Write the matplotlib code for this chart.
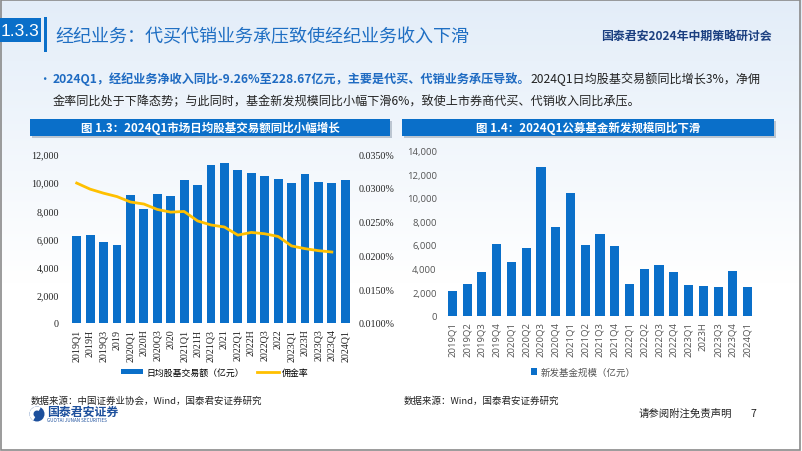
import numpy as np
import matplotlib.pyplot as plt
from matplotlib.patches import Rectangle, Patch, Circle, Wedge
from matplotlib.lines import Line2D
from matplotlib.ticker import FuncFormatter

plt.rcParams['font.family'] = ['Noto Sans CJK SC', 'DejaVu Sans']

# ---- data ----
left_cats = ["2019Q1", "2019H", "2019Q3", "2019", "2020Q1", "2020H", "2020Q3", "2020",
             "2021Q1", "2021H", "2021Q3", "2021", "2022Q1", "2022H", "2022Q3", "2022",
             "2023Q1", "2023H", "2023Q3", "2023Q4", "2024Q1"]
turnover = [6180, 6230, 5780, 5570, 9120, 8070, 9160, 9020,
            10180, 9780, 11200, 11340, 10890, 10630, 10420, 10200,
            9920, 10560, 10040, 9920, 10180]
commission = [0.0307, 0.0298, 0.0292, 0.0287, 0.0279, 0.0276, 0.0268, 0.0264,
              0.0265, 0.0251, 0.0245, 0.0242, 0.0230, 0.0234, 0.0232, 0.0228,
              0.0214, 0.0210, 0.0207, 0.0205]  # percent, 2024Q1 missing

right_cats = ["2019Q1", "2019Q2", "2019Q3", "2019Q4", "2020Q1", "2020Q2", "2020Q3", "2020Q4",
              "2021Q1", "2021Q2", "2021Q3", "2021Q4", "2022Q1", "2022Q2", "2022Q3", "2022Q4",
              "2023Q1", "2023H", "2023Q3", "2023Q4", "2024Q1"]
new_funds = [2100, 2660, 3680, 6050, 4530, 5770, 12590, 7550,
             10410, 6020, 6900, 5940, 2660, 3960, 4330, 3730,
             2580, 2545, 2460, 3790, 2430]

BLUE = "#0a6fc9"
W, H = 802, 452

fig = plt.figure(figsize=(8.02, 4.52), dpi=100)

def fx(px):
    return px / W

def fy(py):
    return 1 - py / H

# background gradient
bg = fig.add_axes([0, 0, 1, 1], zorder=-10)
grad = np.linspace(0, 1, 200).reshape(-1, 1)
top = np.array([0.89, 0.93, 0.975])
bot = np.array([1.0, 1.0, 1.0])
mix = np.clip(grad * 1.6, 0, 1)
img = top + (bot - top) * mix[..., None]
img = np.repeat(img, 2, axis=1)
bg.imshow(img, aspect="auto", extent=[0, 1, 0, 1])
bg.set_axis_off()

# frame
fig.patches.append(Rectangle((0.001, 0.002), 0.997, 0.995, transform=fig.transFigure,
                             fill=False, ec="#8a8a8a", lw=1.2))

# header
fig.patches.append(Rectangle((fx(0), fy(43)), fx(41), (43 - 19) / H, transform=fig.transFigure,
                             fc=BLUE, ec="none"))
fig.text(fx(20.5), fy(31), "1.3.3", color="white", fontsize=12.5, ha="center", va="center",
         family="Liberation Sans")
fig.patches.append(Rectangle((fx(44), fy(53)), fx(3), (53 - 18) / H, transform=fig.transFigure,
                             fc=BLUE, ec="none"))
fig.text(fx(55), fy(37), "经纪业务：代买代销业务承压致使经纪业务收入下滑", color="#1f6fc3",
         fontsize=13, ha="left", va="center")
fig.text(fx(772), fy(36), "国泰君安2024年中期策略研讨会", color="#1b3f80", fontsize=8.6,
         ha="right", va="center", weight="bold")

# bullet text
fig.text(fx(38), fy(79), "•", color="#1f6fc3", fontsize=9, ha="left", va="center")
t1 = fig.text(fx(53), fy(79), "2024Q1，经纪业务净收入同比-9.26%至228.67亿元，主要是代买、代销业务承压导致。",
              color="#1f6bc2", fontsize=8.7, weight="bold", ha="left", va="center")
fig.canvas.draw()
bb = t1.get_window_extent()
fig.text(bb.x1 / fig.dpi / fig.get_figwidth(), fy(79), "2024Q1日均股基交易额同比增长3%，净佣",
         color="#222222", fontsize=8.7, ha="left", va="center")
fig.text(fx(53), fy(101.5), "金率同比处于下降态势；与此同时，基金新发规模同比小幅下滑6%，致使上市券商代买、代销收入同比承压。",
         color="#222222", fontsize=8.7, ha="left", va="center")

# chart header bars
for x0, x1, title in [(30, 390, "图 1.3：2024Q1市场日均股基交易额同比小幅增长"),
                      (402, 774, "图 1.4：2024Q1公募基金新发规模同比下滑")]:
    fig.patches.append(Rectangle((fx(x0 + 2), fy(139)), fx(x1 - x0), 17 / H, transform=fig.transFigure,
                                 fc="#9aa7b5", ec="none", alpha=0.6))
    fig.patches.append(Rectangle((fx(x0), fy(137)), fx(x1 - x0), 17 / H, transform=fig.transFigure,
                                 fc=BLUE, ec="none"))
    fig.text(fx((x0 + x1) / 2), fy(128.5), title, color="white", fontsize=8.3, weight="bold",
             ha="center", va="center")

# ---- left chart ----
ax1 = fig.add_axes([fx(70), fy(324), fx(282), 169 / H])
ax1.patch.set_alpha(0)
x = np.arange(len(left_cats))
ax1.bar(x, turnover, width=0.66, color=BLUE, zorder=2)
ax1.set_xlim(-0.5, len(left_cats) - 0.5)
ax1.set_ylim(0, 12000)
ax1.set_yticks(np.arange(0, 12001, 2000))
ax1.yaxis.set_major_formatter(FuncFormatter(lambda v, p: f"{int(v):,}"))
ax1.set_xticks(x)
ax1.set_xticklabels(left_cats, rotation=90, family="Liberation Serif", fontsize=7.2, color="#222222")
for lab in ax1.get_yticklabels():
    lab.set_family("Liberation Serif")
    lab.set_fontsize(7.2)
    lab.set_color("#222222")
ax1.tick_params(length=0, pad=8)
ax1.tick_params(axis="x", pad=4)
for s in ax1.spines.values():
    s.set_visible(False)

ax2 = ax1.twinx()
ax2.plot(np.arange(len(commission)), commission, color="#ffc000", lw=2, zorder=3)
ax2.set_ylim(0.01, 0.035)
ax2.set_yticks(np.arange(0.01, 0.03501, 0.005))
ax2.yaxis.set_major_formatter(FuncFormatter(lambda v, p: f"{v:.4f}%"))
for lab in ax2.get_yticklabels():
    lab.set_family("Liberation Serif")
    lab.set_fontsize(7.2)
    lab.set_color("#222222")
ax2.tick_params(length=0, pad=5)
for s in ax2.spines.values():
    s.set_visible(False)

fig.legend(handles=[Patch(fc=BLUE, ec="none"), Line2D([], [], color="#ffc000", lw=2)],
           labels=["日均股基交易额（亿元）", "佣金率"], loc="center", bbox_to_anchor=(fx(215), fy(373)),
           ncol=2, frameon=False, fontsize=6.4, handlelength=2.4, handleheight=0.55,
           columnspacing=1.5, handletextpad=0.4)

# ---- right chart ----
ax3 = fig.add_axes([fx(445), fy(316.7), fx(310), 165 / H])
ax3.patch.set_alpha(0)
x = np.arange(len(right_cats))
ax3.bar(x, new_funds, width=0.62, color=BLUE, zorder=2)
ax3.set_xlim(-0.5, len(right_cats) - 0.5)
ax3.set_ylim(0, 14000)
ax3.set_yticks(np.arange(0, 14001, 2000))
ax3.yaxis.set_major_formatter(FuncFormatter(lambda v, p: f"{int(v):,}"))
ax3.set_xticks(x)
ax3.set_xticklabels(right_cats, rotation=90, family="Open Sans", fontsize=6.8, color="#555555")
for lab in ax3.get_yticklabels():
    lab.set_family("Open Sans")
    lab.set_fontsize(6.8)
    lab.set_color("#555555")
ax3.tick_params(length=0, pad=6)
ax3.tick_params(axis="x", pad=4)
for s in ax3.spines.values():
    s.set_visible(False)
ax3.axhline(0, color="#d9d9d9", lw=0.8, zorder=1)

fig.legend(handles=[Patch(fc=BLUE, ec="none")], labels=["新发基金规模（亿元）"], loc="center",
           bbox_to_anchor=(fx(583), fy(373)), frameon=False, fontsize=6.8, handlelength=0.7,
           handleheight=0.7, handletextpad=0.3, labelcolor="#555555")

# ---- footer ----
fig.text(fx(31), fy(401), "数据来源：中国证券业协会，Wind，国泰君安证券研究", fontsize=6.8,
         color="#222222", ha="left", va="center", style="italic")
fig.text(fx(404), fy(401), "数据来源：Wind，国泰君安证券研究", fontsize=6.8,
         color="#222222", ha="left", va="center", style="italic")

# logo
lx, ly = fx(37), fy(415)
fig.patches.append(Circle((37, 452 - 415), 7.5, transform=None, fc="#1c4f9c", ec="none"))
fig.patches.append(Wedge((37, 452 - 415), 7.5, 60, 240, width=4, transform=None, fc="white", ec="none"))
fig.text(fx(47), fy(412), "国泰君安证券", fontsize=8.6, weight="bold", color="#1c4f9c",
         ha="left", va="center")
fig.text(fx(47), fy(420.5), "GUOTAI JUNAN SECURITIES", fontsize=3.3, color="#1c4f9c",
         ha="left", va="center")

fig.text(fx(639), fy(414), "请参阅附注免责声明", fontsize=7.5, color="#222222", ha="left", va="center")
fig.text(fx(750), fy(414), "7", fontsize=7.5, color="#222222", ha="left", va="center")

fig.savefig("out.png", dpi=100)
